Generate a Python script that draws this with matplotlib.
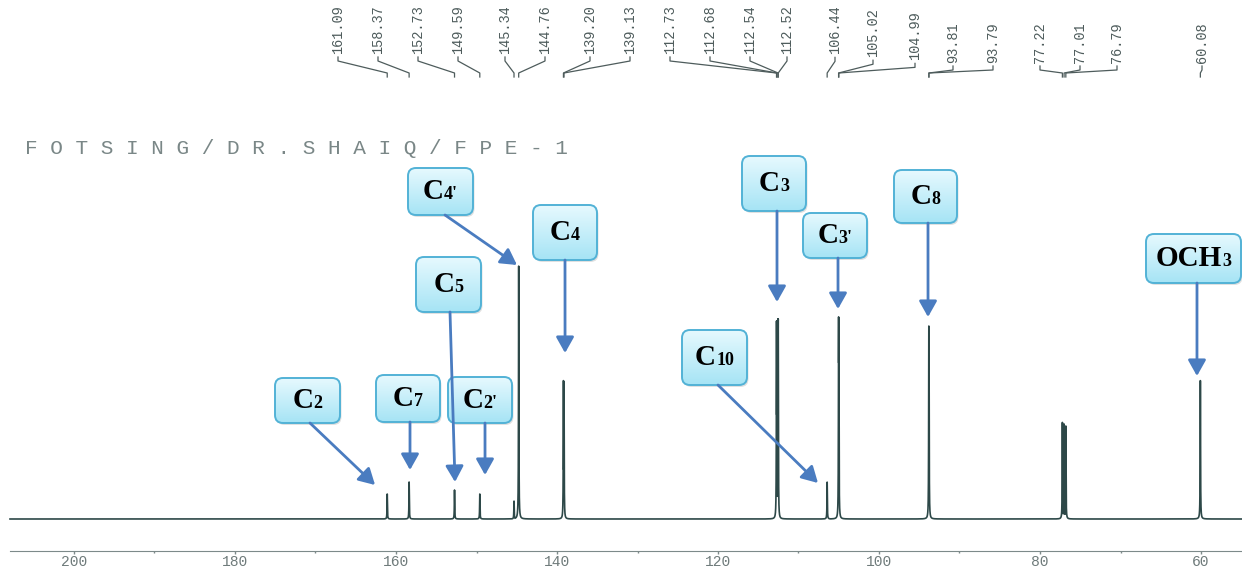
import numpy as np
import matplotlib
matplotlib.use('Agg')
import matplotlib.pyplot as plt
from matplotlib.patches import FancyBboxPatch
from matplotlib.colors import LinearSegmentedColormap
from matplotlib.offsetbox import TextArea, HPacker, AnnotationBbox

# 13C peak list (ppm) and peak heights (px above baseline)
shifts = [161.09, 158.37, 152.73, 149.59, 145.34, 144.76, 139.20, 139.13,
          112.73, 112.68, 112.54, 112.52, 106.44, 105.02, 104.99,
          93.81, 93.79, 77.22, 77.01, 76.79, 60.08]
heights = [25, 37, 29, 25, 18, 254, 139, 137,
           198, 199, 201, 201, 37, 203, 201,
           193, 191, 97, 95, 93, 139]

ticks_major = [200, 180, 160, 140, 120, 100, 80, 60]
ticks_minor = [190, 170, 150, 130, 110, 90, 70]
title = 'FOTSING/DR.SHAIQ/FPE-1'

# carbon assignments: big text, small suffix, arrow target (ppm, height)
assign_main = ['C', 'C', 'C', 'C', 'C', 'C', 'C', 'C', 'C', 'C', 'OCH']
assign_sub = ["4'", '4', '5', '2', '7', "2'", '10', '3', "3'", '8', '3']
assign_ppm = [144.97, 139.0, 152.67, 162.6, 158.26, 148.94, 107.58, 112.67, 105.09, 93.91, 60.5]
assign_h = [254, 166, 37, 34, 49, 44, 36, 217, 210, 202, 143]

# layout (figure pixels)
LABEL_X = [338, 378, 418, 458, 505, 545, 590, 630, 670, 710, 750, 787,
           835, 873, 915, 953, 993, 1040, 1080, 1117, 1202]
BOXES = [(408, 168, 473, 215), (533, 205, 597, 260), (416, 257, 481, 312),
         (275, 378, 340, 423), (376, 375, 440, 422), (448, 377, 512, 423),
         (682, 330, 747, 385), (742, 156, 806, 211), (803, 213, 867, 258),
         (894, 170, 957, 223), (1146, 234, 1241, 283)]
ARROW_START = [(445, 215), (565, 260), (450, 312), (310, 423), (410, 422),
               (485, 423), (718, 385), (777, 211), (838, 258), (928, 223),
               (1197, 283)]

W, H = 1242, 572
BASE_Y = 519
AXIS_Y = 551


def ppm2px(p):
    return 557 + (140 - p) * 8.05


def px2ppm(x):
    return 140 - (x - 557) / 8.05


fig = plt.figure(figsize=(W / 100, H / 100), dpi=100)

# spectrum axes, x in ppm, y in px above baseline
ax = fig.add_axes([0, 0, 1, 1])
ax.set_xlim(px2ppm(0), px2ppm(W))
ax.set_ylim(BASE_Y - H, BASE_Y)

ppm = np.arange(px2ppm(10), px2ppm(W), -0.004)
hw = 0.025
spec = np.max([h / (1 + ((ppm - s) / hw) ** 2) for s, h in zip(shifts, heights)], axis=0)
ax.plot(ppm, spec, color='#2d4848', lw=1.2)

for side in ['top', 'right', 'left']:
    ax.spines[side].set_visible(False)
ax.spines['bottom'].set_position(('data', BASE_Y - AXIS_Y))
ax.spines['bottom'].set_bounds(px2ppm(10), px2ppm(W))
ax.spines['bottom'].set_color('#7d8a8a')
ax.set_yticks([])
ax.set_xticks(ticks_major)
ax.set_xticks(ticks_minor, minor=True)
ax.set_xticklabels([str(t) for t in ticks_major])
ax.tick_params(axis='x', which='major', length=2.5, width=1, colors='#7d8a8a',
               pad=0.5, labelsize=10.5, labelcolor='#6f7b7b')
ax.tick_params(axis='x', which='minor', length=1.2, width=1, colors='#7d8a8a')
for lab in ax.get_xticklabels():
    lab.set_fontfamily('Liberation Mono')

# overlay axes in pixel coordinates for the printout text and callouts
ax2 = fig.add_axes([0, 0, 1, 1], zorder=3)
ax2.patch.set_visible(False)

ax2.text(25, 149, ' '.join(title), family='Liberation Mono', fontsize=15.2,
         color='#7a8787', va='center', ha='left')

# peak labels with connector lines
for s, lx in zip(shifts, LABEL_X):
    yb = np.interp(lx, [830, 950], [54, 63])
    px = ppm2px(s)
    ax2.text(lx, yb, f'{s:.2f}', rotation=90, ha='center', va='bottom',
             family='Liberation Mono', fontsize=9.8, color='#4e5c5c')
    ax2.plot([lx, lx, px, px], [yb + 3, yb + 7, 73, 77], color='#4e5c5c', lw=0.9)

# callout boxes
box_cmap = LinearSegmentedColormap.from_list('box', ['#e6f9fe', '#a6e4f5'])
grad = np.linspace(0, 1, 64).reshape(-1, 1)
for main, sub, (x0, y0, x1, y1) in zip(assign_main, assign_sub, BOXES):
    shadow = FancyBboxPatch((x0 + 1.5, y0 + 2), x1 - x0, y1 - y0,
                            boxstyle='round,pad=0,rounding_size=8',
                            fc='black', ec='none', alpha=0.12, zorder=1)
    ax2.add_patch(shadow)
    patch = FancyBboxPatch((x0, y0), x1 - x0, y1 - y0,
                           boxstyle='round,pad=0,rounding_size=8',
                           fc='none', ec='#52b2d6', lw=1.4, zorder=3)
    ax2.add_patch(patch)
    im = ax2.imshow(grad, extent=(x0, x1, y1, y0), origin='upper', cmap=box_cmap,
                    aspect='auto', zorder=2)
    im.set_clip_path(patch)
    txt = HPacker(children=[
        TextArea(main, textprops=dict(fontsize=21, fontweight='bold',
                                      family='Liberation Serif', color='black')),
        TextArea(sub, textprops=dict(fontsize=13, fontweight='bold',
                                     family='Liberation Serif', color='black'))],
        align='baseline', pad=0, sep=0)
    ab = AnnotationBbox(txt, ((x0 + x1) / 2, (y0 + y1) / 2), xycoords='data',
                        frameon=False, box_alignment=(0.5, 0.5), zorder=4)
    ax2.add_artist(ab)

# arrows to the assigned peaks
for p, h, start in zip(assign_ppm, assign_h, ARROW_START):
    ax2.annotate('', xy=(p, h), xycoords=ax.transData, xytext=start, textcoords='data',
                 arrowprops=dict(arrowstyle='-|>,head_length=0.8,head_width=0.45',
                                 color='#4a7cc0', lw=2, shrinkA=0, shrinkB=0,
                                 mutation_scale=12), zorder=5)

ax2.set_xlim(0, W)
ax2.set_ylim(H, 0)
ax2.axis('off')

fig.savefig('out.png', dpi=100)
